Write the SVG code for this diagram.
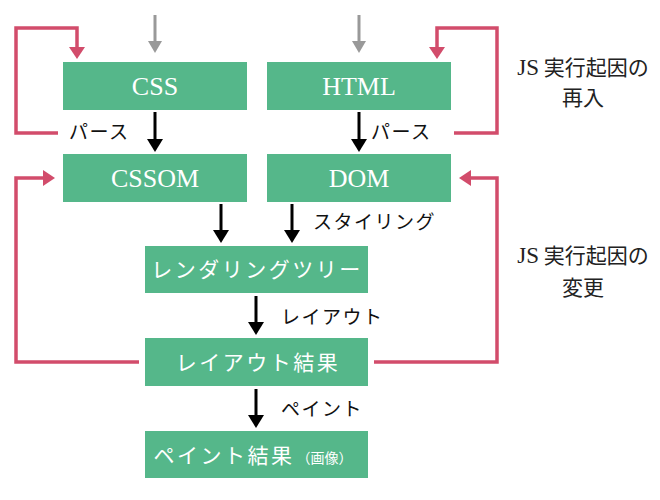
<svg xmlns="http://www.w3.org/2000/svg" width="660" height="500" viewBox="0 0 660 500">
<defs>
<style>
.box{fill:#55b78a}
.en{font-family:"Liberation Serif",serif;font-size:26px;fill:#fff;text-anchor:middle}
.jp{font-family:"Noto Sans CJK JP","Noto Sans",sans-serif;font-size:21px;fill:#fff;text-anchor:middle;letter-spacing:2.5px}
.lbl{font-family:"Noto Sans CJK JP","Noto Sans",sans-serif;font-size:19px;fill:#111;letter-spacing:1.5px}
.note{font-family:"Noto Sans CJK JP","Noto Sans",sans-serif;font-size:21px;fill:#222;text-anchor:middle}
.js{font-family:"Liberation Serif",serif;font-size:23px}
.blk{stroke:#000;stroke-width:3;fill:none}
.gry{stroke:#999;stroke-width:3;fill:none}
.red{stroke:#d24c6b;stroke-width:3.5;fill:none}
</style>
</defs>
<g id="connectors">
<line class="gry" x1="155" y1="15" x2="155" y2="42"/>
<path d="M148,41 L162,41 L155,53 z" fill="#999"/>
<line class="gry" x1="359" y1="15" x2="359" y2="42"/>
<path d="M352,41 L366,41 L359,53 z" fill="#999"/>
<line class="blk" x1="155" y1="112" x2="155" y2="140"/>
<path d="M147,139 L163,139 L155,152 z"/>
<line class="blk" x1="359" y1="112" x2="359" y2="140"/>
<path d="M351,139 L367,139 L359,152 z"/>
<line class="blk" x1="221" y1="204" x2="221" y2="231"/>
<path d="M213,230 L229,230 L221,243 z"/>
<line class="blk" x1="292" y1="204" x2="292" y2="231"/>
<path d="M284,230 L300,230 L292,243 z"/>
<line class="blk" x1="256" y1="296" x2="256" y2="323"/>
<path d="M248,322 L264,322 L256,335 z"/>
<line class="blk" x1="256" y1="389" x2="256" y2="416"/>
<path d="M248,415 L264,415 L256,428 z"/>
<path class="red" d="M58,133 H16 V28 H77 V48"/>
<path d="M69,47 L85,47 L77,59 z" fill="#d24c6b"/>
<path class="red" d="M454,133 H497 V28 H437 V48"/>
<path d="M429,47 L445,47 L437,59 z" fill="#d24c6b"/>
<path class="red" d="M139,362 H16 V178 H44"/>
<path d="M43,170 L43,186 L55,178 z" fill="#d24c6b"/>
<path class="red" d="M374,362 H497 V178 H470"/>
<path d="M471,170 L471,186 L459,178 z" fill="#d24c6b"/>
</g>
<g id="css"><rect class="box" x="63" y="62" width="184" height="48"/><text class="en" x="155" y="95">CSS</text></g>
<g id="html"><rect class="box" x="267" y="62" width="184" height="48"/><text class="en" x="359" y="95">HTML</text></g>
<g id="cssom"><rect class="box" x="63" y="154" width="184" height="48"/><text class="en" x="155" y="187">CSSOM</text></g>
<g id="dom"><rect class="box" x="267" y="154" width="184" height="48"/><text class="en" x="359" y="187">DOM</text></g>
<g id="render"><rect class="box" x="145" y="246" width="223" height="47"/><text class="jp" x="257" y="277">レンダリングツリー</text></g>
<g id="layout"><rect class="box" x="145" y="338" width="223" height="48"/><text class="jp" x="258" y="370">レイアウト結果</text></g>
<g id="paint"><rect class="box" x="145" y="431" width="223" height="47"/><text class="jp" x="253" y="463">ペイント結果<tspan font-size="14" letter-spacing="0" dx="2">（画像）</tspan></text></g>
<g id="labels">
<text class="lbl" x="69" y="139">パース</text>
<text class="lbl" x="371" y="139">パース</text>
<text class="lbl" x="313" y="229">スタイリング</text>
<text class="lbl" x="281" y="324">レイアウト</text>
<text class="lbl" x="281" y="416">ペイント</text>
<text class="note" x="583" y="75"><tspan class="js">JS</tspan> 実行起因の</text>
<text class="note" x="583" y="105">再入</text>
<text class="note" x="583" y="263"><tspan class="js">JS</tspan> 実行起因の</text>
<text class="note" x="583" y="295">変更</text>
</g>
</svg>
